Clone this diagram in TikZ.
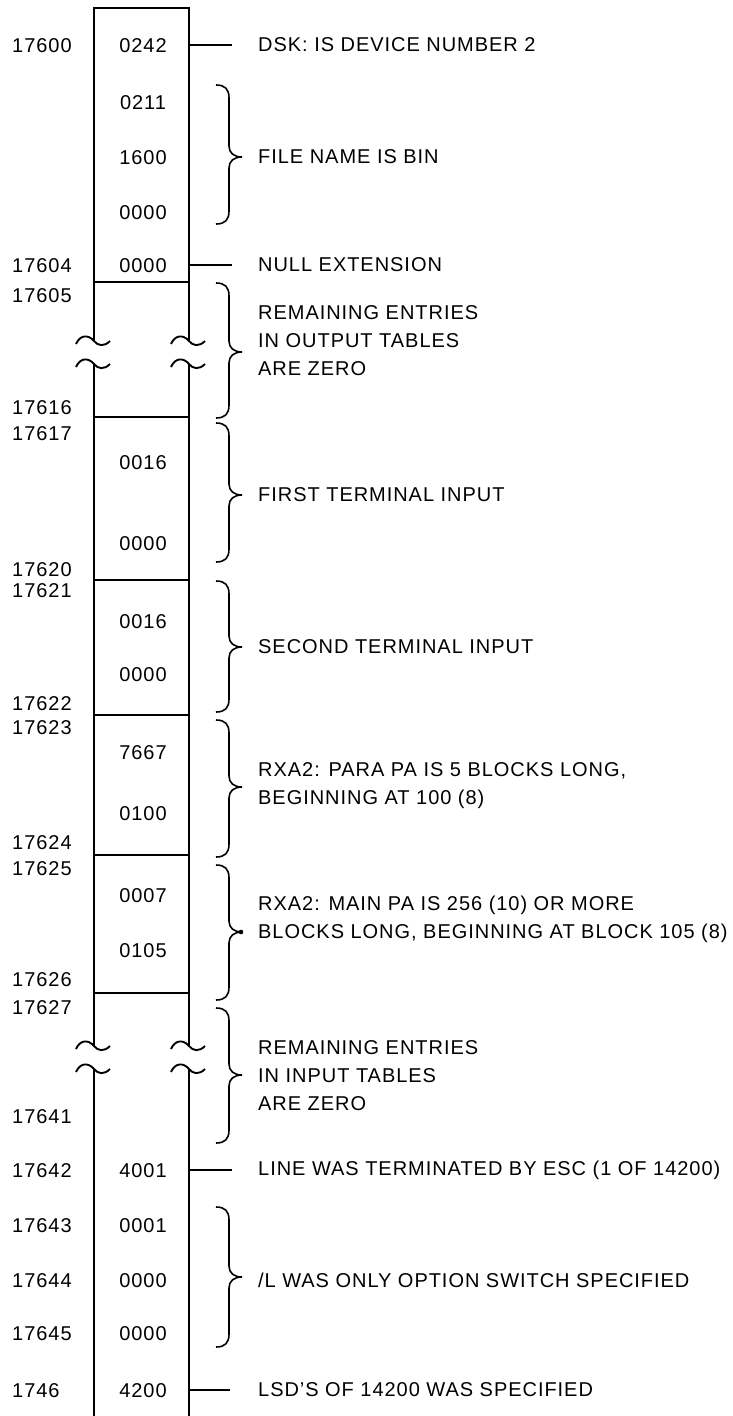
\documentclass[tikz,border=0pt]{standalone}
\usepackage{fontspec}
\setmainfont{Liberation Sans}[LetterSpace=4.8]
\newcommand\curly[3]{%
  \draw[brc] (216,#1) .. controls (225,#1) and (229,{#1+4}) .. (229,{#1+13})
    -- (229,{#2-11}) .. controls (229,{#2-4}) and (234,#2) .. (242,#2)
    .. controls (234,#2) and (229,{#2+4}) .. (229,{#2+11})
    -- (229,{#3-13}) .. controls (229,{#3-4}) and (225,#3) .. (216,#3);}
\begin{document}
\begin{tikzpicture}[x=1pt,y=-1pt,
  col/.style={line width=2.2pt},
  conn/.style={line width=1.6pt},
  brc/.style={line width=1.6pt},
  brk/.style={line width=1.9pt},
  addr/.style={anchor=west,inner sep=0pt,text height=14.3pt,text depth=0pt},
  val/.style={inner sep=0pt,text height=14.3pt,text depth=0pt},
  note/.style={anchor=west,inner sep=0pt,align=left},
  font=\fontsize{20}{28}\selectfont]
\useasboundingbox (0,0) rectangle (733,1416);
\coordinate (colL) at (94,0);
\coordinate (colR) at (189,0);
% column outline
\draw[col] (94,341) -- (94,8) -- (189,8) -- (189,341);
\draw[col] (94,364) -- (94,1046);
\draw[col] (189,364) -- (189,1046);
\draw[col] (94,1069) -- (94,1416);
\draw[col] (189,1069) -- (189,1416);
\foreach \y in {282,417,580,715,855,993} \draw[col] (94,\y) -- (189,\y);
% break marks
\foreach \x in {94,189} \foreach \y in {340,363,1045,1068}
  \draw[brk,shift={(\x,\y)}] (-18,4) .. controls (-14,-5) and (-6,-6) .. (0,1) .. controls (4,6) and (10,7) .. (16,1);
% addresses
\foreach \y/\t [count=\i] in {45/17600,265/17604,295/17605,407/17616,433/17617,569/17620,590/17621,703/17622,727/17623,842/17624,868/17625,979/17626,1007/17627,1116/17641,1170/17642,1225/17643,1280/17644,1333/17645,1390/1746}
  \node[addr] (a\i) at (12,\y) {\t};
% values
\foreach \y/\t [count=\i] in {45/0242,102/0211,157/1600,212/0000,265/0000,462/0016,543/0000,621/0016,674/0000,752/7667,813/0100,895/0007,950/0105,1170/4001,1225/0001,1280/0000,1333/0000,1390/4200}
  \node[val] (v\i) at (143,\y) {\t};
% notes
\node[note] (t1) at (258,45) {DSK: IS DEVICE NUMBER 2};
\node[note] (t2) at (258,157) {FILE NAME IS BIN};
\node[note] (t3) at (258,265) {NULL EXTENSION};
\node[note] (t4) at (258,341) {REMAINING ENTRIES\\IN OUTPUT TABLES\\ARE ZERO};
\node[note] (t5) at (258,495) {FIRST TERMINAL INPUT};
\node[note] (t6) at (258,647) {SECOND TERMINAL INPUT};
\node[note] (t7) at (258,786) {RXA2: PARA PA IS 5 BLOCKS LONG,\\BEGINNING AT 100 (8)};
\node[note] (t8) at (258,919) {RXA2: MAIN PA IS 256 (10) OR MORE\\BLOCKS LONG, BEGINNING AT BLOCK 105 (8)};
\node[note] (t9) at (258,1076) {REMAINING ENTRIES\\IN INPUT TABLES\\ARE ZERO};
\node[note] (t10) at (258,1170) {LINE WAS TERMINATED BY ESC (1 OF 14200)};
\node[note] (t11) at (258,1280) {/L WAS ONLY OPTION SWITCH SPECIFIED};
\node[note] (t12) at (258,1390) {LSD’S OF 14200 WAS SPECIFIED};
% connectors
\foreach \n in {t1,t3,t10} \draw[conn] (\n.west -| colR) -- ([xshift=-26pt]\n.west);
\draw[conn] (t12.west -| colR) -- ([xshift=-28pt]t12.west);
% braces
\curly{85}{157}{224}
\curly{283}{352}{418}
\curly{423}{495}{562}
\curly{581}{647}{712}
\curly{720}{787}{857}
\curly{865}{932}{1000}
\fill (241,932) circle (2.3);
\curly{1008}{1075}{1143}
\curly{1207}{1277}{1347}
\end{tikzpicture}
\end{document}
